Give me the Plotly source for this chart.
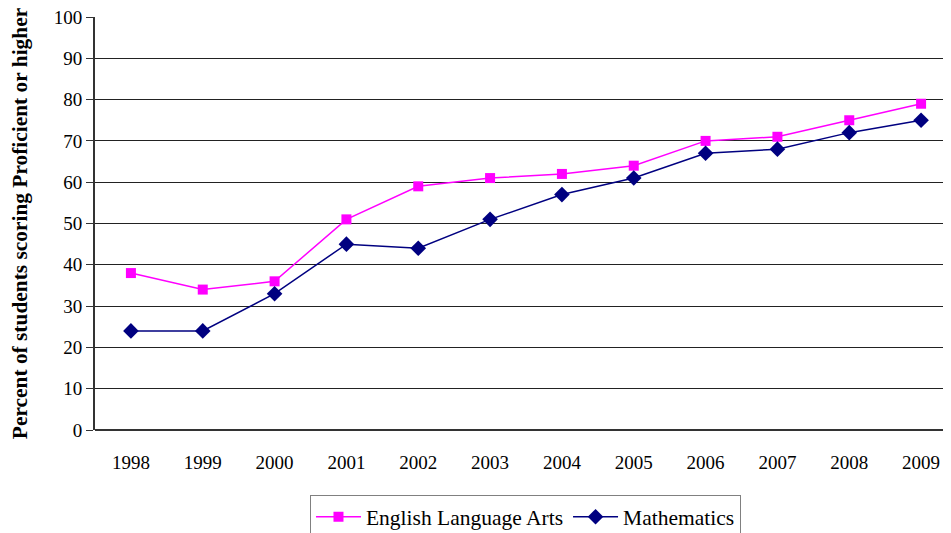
import plotly.graph_objects as go

years = ["1998", "1999", "2000", "2001", "2002", "2003", "2004", "2005", "2006", "2007", "2008", "2009"]
ela = [38, 34, 36, 51, 59, 61, 62, 64, 70, 71, 75, 79]
math = [24, 24, 33, 45, 44, 51, 57, 61, 67, 68, 72, 75]
y_ticks = [0, 10, 20, 30, 40, 50, 60, 70, 80, 90, 100]

font = "Times New Roman, Liberation Serif, Tinos, DejaVu Serif, serif"

fig = go.Figure()
fig.add_trace(go.Scatter(
    x=list(range(len(years))), y=ela, name="English Language Arts", mode="lines+markers",
    line=dict(color="#FF00FF", width=1.5),
    marker=dict(symbol="square", size=10, color="#FF00FF"),
))
fig.add_trace(go.Scatter(
    x=list(range(len(years))), y=math, name="Mathematics", mode="lines+markers",
    line=dict(color="#000080", width=1.5),
    marker=dict(symbol="diamond", size=12, color="#000080"),
))

fig.update_layout(
    width=951, height=533,
    margin=dict(l=87, r=2, t=9, b=111),
    plot_bgcolor="white", paper_bgcolor="white",
    font=dict(family=font, size=19, color="black"),
    showlegend=True,
    legend=dict(
        orientation="h", x=0.4994, xanchor="center", y=-0.158, yanchor="top",
        bordercolor="#808080", borderwidth=1, font=dict(size=21.5, family=font),
        traceorder="normal", itemwidth=45,
    ),
    xaxis=dict(
        range=[-0.5, 11.5], tickmode="array", tickvals=list(range(len(years))), ticktext=years,
        showgrid=False, showline=False, zeroline=False, ticks="", tickfont=dict(size=19),
        ticklabelstandoff=19, automargin=False,
    ),
    yaxis=dict(
        range=[0, 100], tickmode="array", tickvals=y_ticks,
        showgrid=True, gridcolor="#222222", gridwidth=1,
        showline=True, linecolor="#333333", linewidth=2,
        ticks="outside", ticklen=7, tickcolor="#333333",
        zeroline=True, zerolinecolor="#333333", zerolinewidth=2,
        tickfont=dict(size=19), automargin=False, ticklabeloverflow="allow",
        title=dict(text="<b>Percent of students scoring Proficient or higher</b>",
                   font=dict(size=21.4, family=font), standoff=36),
    ),
)

fig.write_html("out.html")
